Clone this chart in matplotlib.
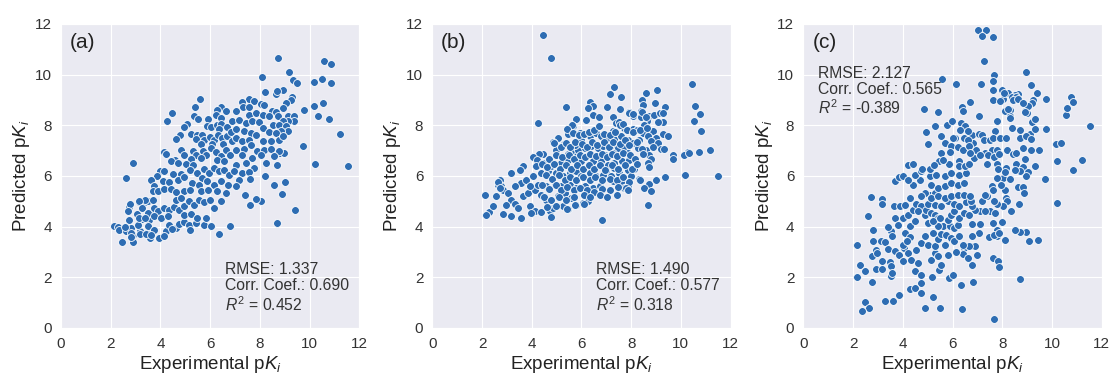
import matplotlib
matplotlib.use('Agg')
import matplotlib.pyplot as plt
import seaborn as sns
import numpy as np

# (experimental, predicted) pairs
pts_a = [
    (8.72,10.66),(10.6,10.53),(10.87,10.43),(8.08,9.91),(9.19,10.1),(9.33,9.8),(9.5,9.67),(10.19,9.71),
    (10.52,9.84),(10.85,9.67),(8.19,9.31),(8.63,9.24),(8.92,9.41),(9.30,9.12),(10.16,8.75),(10.54,8.88),
    (10.33,8.38),(10.77,8.26),(9.76,8.59),(11.21,7.64),(9.73,7.17),(10.23,6.48),(11.53,6.38),(9.02,5.77),
    (8.88,5.30),(8.55,5.64),(9.40,4.64),(8.70,4.14),(8.04,5.02),(7.84,5.10),(7.61,4.84),(6.80,4.03),
    (6.34,3.72),(7.39,5.23),(8.19,6.01),(8.71,6.42),(8.82,6.90),(8.97,6.90),(5.6,9.05),(5.4,8.72),
    (4.48,8.48),(4.25,8.16),(2.91,6.53),(2.62,5.92),
    (2.15,4.04),(2.28,3.97),(2.35,3.85),(2.47,3.41),(2.62,3.83),(2.74,4.76),(2.78,4.89),(2.75,4.27),
    (2.80,3.94),(2.91,3.41),(2.88,3.68),(3.07,4.5),(3.15,4.99),(3.18,3.81),(3.24,4.3),(3.38,4.99),
    (3.44,3.74),(3.56,4.27),(3.58,3.54),(3.64,4.53),(3.52,5.02),(3.71,5.06),
    (6.45,8.72),(6.29,8.59),(6.65,8.55),(5.36,8.36),(5.52,8.26),(5.93,8.26),(6.23,8.39),(6.43,8.29),
    (5.07,8.05),(4.96,7.93),(5.89,7.96),(6.05,7.95),(6.27,8.03),(6.43,8.07),(6.67,7.93),(6.36,7.87),
    (5.25,7.66),(4.77,7.63),(4.64,7.47),(5.49,7.63),(5.67,7.61),(5.43,7.46),(5.76,7.43),(5.63,7.26),
    (6.0,7.53),(6.16,7.43),(6.32,7.63),(6.49,7.5),(6.69,7.57),(6.83,7.74),(6.89,7.37),(6.08,7.26),
    (6.53,7.26),(4.83,7.03),(4.96,6.84),(4.16,6.95),(4.23,6.87),(4.59,6.63),(4.43,6.58),(4.72,6.51),
    (5.31,7.0),(5.43,6.84),(5.25,6.68),(5.71,7.0),(5.84,6.84),(5.63,6.71),(6.03,7.11),(6.23,6.95),
    (6.43,6.78),(6.64,7.04),(6.8,6.84),(6.29,6.64),(6.56,6.58),(5.03,6.47),(5.33,6.45),(4.0,6.21),
    (4.13,6.18),(3.87,5.99),(4.51,6.08),(4.83,6.08),(5.17,6.25),(5.49,6.12),(5.76,6.29),(5.96,6.12),
    (6.16,6.32),(6.36,6.18),(6.56,6.25),(6.76,6.03),(5.69,5.92),(3.63,5.84),(4.09,5.79),(4.36,5.75),
    (4.69,5.86),(4.96,5.95),(5.29,5.72),(5.56,5.66),(5.89,5.79),(6.16,5.66),(6.43,5.79),(6.72,5.66),
    (3.76,5.59),(3.69,5.39),(3.92,5.39),(4.13,5.5),(4.43,5.5),(4.63,5.37),(4.96,5.39),(5.2,5.46),
    (5.63,5.39),(5.92,5.46),(6.29,5.39),(6.63,5.33),(3.36,5.05),(3.13,5.0),(2.69,4.61),(3.25,4.74),
    (3.49,4.54),(3.73,4.74),(3.92,4.61),(4.13,4.74),(4.33,4.64),(4.53,4.78),(4.76,4.67),(4.96,4.83),
    (5.16,5.0),(5.36,4.87),(5.56,5.07),(5.76,4.97),(6.0,5.07),(6.16,4.74),(6.43,5.0),(4.63,5.07),
    (4.83,5.13),(2.59,3.99),(3.09,4.08),(3.49,4.01),(3.76,3.88),(4.23,3.82),(4.36,4.08),(4.63,3.95),
    (4.76,4.11),(4.96,4.17),(5.16,4.08),(5.43,4.14),(5.76,4.08),(6.03,4.01),(3.13,4.34),(3.36,4.34),
    (3.76,4.41),(4.03,4.34),(4.29,4.41),(4.96,4.47),(5.25,4.5),(5.49,4.34),(5.83,4.34),(2.83,3.75),
    (2.83,3.58),(3.16,3.71),(3.43,3.72),(3.63,3.68),(3.96,3.55),(4.16,3.62),(4.47,3.91),(5.2,3.88),
    (8.69,9.34),(9.27,8.99),(7.58,9.03),(7.77,8.95),(7.3,8.91),(7.32,8.72),(7.57,8.71),(8.03,8.84),
    (8.15,8.79),(9.05,8.88),(8.92,8.68),(8.47,8.55),(8.65,8.51),(7.05,8.58),(7.57,8.42),(7.86,8.49),
    (8.11,8.42),(8.38,8.36),(8.72,8.36),(9.12,8.36),(9.36,8.36),(9.36,8.18),(9.15,8.16),(8.92,8.18),
    (6.89,8.16),(7.16,8.22),(7.46,8.09),(7.7,8.18),(7.97,8.12),(8.51,8.03),(8.78,8.0),(9.05,7.96),
    (9.12,7.79),(8.85,7.79),(7.03,7.86),(7.36,7.76),(7.64,7.7),(8.11,7.89),(8.35,7.74),(8.65,7.7),
    (7.84,7.63),(7.03,7.5),(7.3,7.37),(7.57,7.43),(8.11,7.37),(8.45,7.37),(8.76,7.43),(8.92,7.57),
    (7.03,7.04),(7.36,7.08),(7.64,7.24),(7.9,6.97),(8.18,7.04),(8.45,7.07),(8.78,6.97),(7.3,6.84),
    (7.7,6.71),(8.04,6.84),(8.24,6.51),(8.58,6.78),(7.03,6.45),(7.43,6.51),(7.77,6.32),(6.96,6.18),
    (7.3,6.12),(7.57,6.16),(7.16,5.86),(7.61,5.89),(7.03,5.59),
]

pts_b = [
    (4.47,11.55),(4.78,10.67),(4.24,8.08),(5.38,8.71),(5.79,8.26),(5.6,7.99),(5.68,7.99),(5.45,7.66),
    (6.34,8.91),(6.48,8.78),(6.28,8.68),(6.48,8.42),(6.7,8.32),(6.2,8.22),(5.06,7.5),(5.3,7.28),
    (4.85,7.33),(4.96,7.04),(4.46,6.88),(4.3,6.88),(4.05,6.75),(4.22,6.64),(3.65,6.38),(3.52,6.25),
    (3.15,6.12),(2.71,5.83),(2.64,5.66),(2.11,5.24),(2.27,4.57),(2.15,4.44),(2.44,4.83),(2.85,4.51),
    (3.15,4.41),(3.58,4.33),(2.75,5.59),(2.85,5.46),(2.58,5.2),(3.05,5.33),(3.15,5.07),(3.32,4.91),
    (2.98,4.87),(3.45,4.74),(3.92,4.8),(4.12,4.61),(4.39,4.57),(4.72,4.61),(4.86,4.74),(3.99,4.55),
    (4.79,4.38),(3.65,5.2),(3.85,5.33),(4.12,5.46),(4.39,5.26),(4.59,5.07),(5.06,5.2),(5.33,5.33),
    (5.6,5.13),(5.8,4.87),(5.26,4.8),(5.44,4.7),(6.07,4.93),(6.27,5.0),(6.83,4.28),(3.58,5.72),
    (3.79,5.86),(4.05,5.99),(4.39,6.12),(4.66,6.18),(4.99,6.12),(5.26,5.99),(5.53,6.12),(5.8,6.18),
    (6.0,5.99),(6.34,6.12),(6.6,5.99),(3.32,5.59),(3.92,5.59),(4.26,5.66),(4.59,5.59),(4.93,5.66),
    (5.19,5.59),(5.53,5.66),(5.8,5.53),(6.13,5.59),(6.47,5.53),(6.74,5.59),(4.19,6.38),(4.46,6.51),
    (4.79,6.38),(5.19,6.51),(5.46,6.64),(5.73,6.78),(6.0,6.58),(6.2,6.78),(6.47,6.58),(6.74,6.71),
    (5.6,6.97),(5.87,7.04),(6.13,7.11),(6.4,7.17),(6.67,7.11),(5.73,7.24),(6.0,7.43),(6.34,7.57),
    (6.6,7.7),(6.8,7.57),(5.93,7.7),(5.44,6.88),(2.66,5.77),(2.73,5.51),
    (10.44,9.63),(7.33,9.51),(7.16,9.25),(7.6,9.11),(9.04,9.41),(8.61,9.28),(8.44,9.01),(8.47,8.82),
    (8.95,8.88),(9.37,8.74),(10.56,8.75),(7.03,8.71),(7.57,8.64),(7.91,8.53),(8.07,8.38),(8.41,8.55),
    (8.4,8.33),(8.71,8.36),(8.93,8.42),(9.16,8.49),(10.79,8.45),(7.27,8.33),(10.52,8.17),(8.64,8.16),
    (9.27,8.14),(9.09,8.12),(7.4,8.09),(7.53,8.12),(7.67,8.03),(8.53,8.03),(10.8,7.76),(8.07,7.86),
    (8.24,7.83),(8.87,7.76),(7.27,7.76),(7.73,7.89),(9.27,7.67),(9.47,7.59),(8.47,7.7),(8.67,7.57),
    (9.0,7.5),(7.0,7.43),(7.33,7.47),(7.6,7.57),(7.87,7.43),(8.33,7.43),(8.07,7.3),(8.8,7.37),
    (9.07,7.3),(9.2,7.07),(9.33,7.07),(6.87,7.17),(7.2,7.2),(7.47,7.11),(7.73,7.14),(8.27,7.11),
    (8.6,7.04),(8.87,7.13),(11.16,7.01),(10.71,6.93),(10.29,6.93),(10.13,6.84),(9.69,6.83),(9.69,6.67),
    (6.93,6.84),(7.27,6.91),(7.53,6.78),(7.87,6.91),(8.47,6.88),(8.73,6.84),(8.8,6.67),(6.8,6.58),
    (7.07,6.45),(7.33,6.51),(7.64,6.58),(7.93,6.64),(8.67,6.51),(8.73,6.36),(7.0,6.18),(7.33,6.32),
    (7.53,6.12),(7.87,6.25),(8.13,6.28),(6.87,6.05),(7.2,5.99),(7.67,5.96),(8.0,6.01),(9.37,5.95),
    (10.15,6.03),(11.48,6.01),(8.33,5.88),(7.27,5.79),(7.6,5.75),(7.87,5.62),(7.73,5.53),(8.71,5.68),
    (9.0,5.83),(8.51,5.53),(8.8,5.39),(8.68,4.84),(9.3,8.48),(10.34,6.9),
    (7.93,8.49),(8.09,8.46),(8.43,8.53),(8.6,8.33),(5.63,8.0),(5.43,7.87),(5.67,7.7),(5.89,7.61),
    (6.09,7.67),(6.29,7.74),(6.49,7.8),(6.69,7.96),(6.89,7.67),(7.16,7.61),(7.36,7.74),(7.56,8.0),
    (7.69,8.07),(7.85,7.83),(8.07,7.74),(8.36,7.8),(8.63,7.91),(4.89,7.3),(5.16,7.14),(5.36,7.3),
    (5.56,7.14),(5.76,7.34),(6.03,7.28),(6.23,7.14),(6.43,7.34),(6.63,7.21),(6.89,7.34),(7.09,7.14),
    (7.29,7.34),(7.56,7.28),(7.76,7.41),(7.93,7.21),(8.23,7.34),(8.43,7.08),(4.69,6.68),(4.96,6.82),
    (5.23,6.75),(5.49,6.82),(5.69,6.68),(5.93,6.82),(6.16,6.75),(6.36,6.88),(6.6,6.78),(6.83,6.88),
    (7.03,6.75),(7.23,6.88),(7.45,6.78),(7.69,6.91),(7.96,6.82),(8.16,6.68),(8.49,6.88),(4.43,6.49),
    (4.63,6.36),(4.89,6.46),(5.13,6.29),(5.36,6.42),(5.59,6.29),(5.83,6.42),(6.07,6.29),(6.29,6.42),
    (6.52,6.29),(6.76,6.42),(6.96,6.22),(7.23,6.42),(7.49,6.29),(7.76,6.42),(8.03,6.29),(8.23,6.49),
    (4.56,6.03),(4.83,5.89),(5.09,6.03),(5.32,5.83),(5.56,5.96),(5.8,5.83),(6.07,5.96),(6.33,5.83),
    (6.56,5.96),(6.83,5.83),(7.16,5.89),(7.43,5.83),(7.69,5.96),(7.93,5.76),(8.36,5.83),(4.43,5.63),
    (4.69,5.5),(4.96,5.63),(5.19,5.43),(5.43,5.57),(5.69,5.43),(5.96,5.54),(6.23,5.46),(6.49,5.37),
    (6.83,5.5),(7.16,5.43),(7.49,5.57),(7.8,5.54),(7.89,5.43),(4.49,5.17),(4.76,5.04),(5.09,5.17),
    (5.36,5.04),(5.69,5.17),(6.09,5.24),(6.36,5.17),(6.76,5.24),(7.03,5.17),(7.43,5.24),(4.63,4.78),
    (4.96,4.8),(5.43,4.71),(5.76,4.84),(6.09,4.91),
]

pts_c = [
    (7.04,11.75),(7.35,11.75),(7.17,11.54),(7.63,11.48),(7.28,10.53),(7.68,10.0),(7.64,9.74),(7.14,9.64),
    (7.64,9.38),(7.64,9.01),(8.95,10.09),(9.14,9.6),(9.38,9.28),(5.58,9.84),(6.14,9.64),(4.87,8.64),
    (5.4,8.51),(6.37,8.72),(6.71,8.91),(7.08,8.38),(7.81,8.16),(4.92,7.72),(5.0,7.26),(5.31,7.98),
    (5.79,8.02),(5.54,7.56),(8.0,9.41),(8.24,9.28),(8.04,9.04),(8.31,8.59),(8.12,8.56),(8.31,8.35),
    (8.91,8.55),(9.0,8.48),(9.25,9.01),(9.76,9.04),(9.76,7.85),(10.56,8.42),(10.62,8.68),(10.75,9.12),
    (10.83,8.92),(11.53,7.96),(10.16,7.26),(10.35,7.3),(10.22,6.6),(11.21,6.63),(10.86,6.25),(9.71,5.88),
    (10.19,4.95),(9.42,3.48),(9.06,3.45),(8.95,3.77),(8.71,3.78),(8.53,3.87),(8.11,3.48),(7.77,3.62),
    (7.77,3.87),(7.48,3.58),(7.64,2.78),(7.82,2.65),(7.86,2.4),(8.71,1.92),(7.68,0.36),(6.84,1.83),
    (6.97,2.89),(9.32,6.38),
    (8.64,9.25),(8.5,9.18),(8.41,9.12),(8.57,9.1),(8.44,8.99),(8.64,9.05),(8.07,9.28),(7.93,8.96),
    (9.21,8.89),(9.03,8.76),(8.83,8.86),(8.9,8.53),(8.24,8.66),(8.3,8.29),(9.21,8.13),(9.3,8.26),
    (7.69,7.78),(8.4,7.89),(8.7,7.83),(9.1,7.67),(9.3,7.86),(6.78,7.61),(7.05,7.64),(7.18,7.61),
    (6.82,7.3),(7.25,7.41),(7.51,7.43),(7.64,7.5),(7.93,7.51),(8.15,7.5),(8.7,7.51),(8.94,7.57),
    (9.17,7.45),(6.95,7.01),(7.31,6.91),(7.58,7.01),(7.77,7.01),(8.2,7.04),(8.44,6.88),(8.57,6.92),
    (8.83,7.11),(9.17,7.01),(9.47,7.04),(6.85,6.72),(7.11,6.82),(7.44,6.82),(7.67,6.75),(7.88,6.86),
    (8.9,6.68),(7.38,6.49),(7.77,6.46),(8.17,6.29),(8.57,6.49),(8.83,6.36),
    (9.03,6.16),(8.94,5.99),(8.7,6.21),(8.5,6.25),(8.17,6.32),(7.84,6.29),(8.04,5.92),(7.77,5.92),
    (8.33,5.89),(8.13,6.16),(8.64,5.55),(8.83,5.55),(8.86,5.32),(8.11,5.46),(7.95,5.63),(7.58,5.59),
    (7.62,5.46),(7.38,5.2),(8.17,5.13),(8.2,5.0),(8.04,4.8),(7.8,4.89),(7.66,5.03),(8.68,4.89),
    (8.34,4.63),(7.49,4.61),(7.69,4.54),(7.1,4.61),(7.3,4.61),(6.91,4.67),(6.78,4.8),(7.17,5.0),
    (7.3,5.26),(6.79,4.11),(7.1,4.12),(7.62,4.14),(7.99,4.18),(7.67,3.68),(7.88,3.75),(7.05,3.75),
    (6.78,3.62),(6.78,3.25),(6.89,3.22),(6.78,2.5),
    (2.16,3.29),(2.29,2.47),(2.48,2.24),(2.16,2.0),(2.59,4.41),(2.79,3.88),(2.81,3.42),(2.75,2.83),
    (2.91,3.09),(2.95,2.96),(2.77,1.8),(2.91,2.34),(2.72,5.17),(3.17,5.09),(3.17,4.89),(3.11,3.45),
    (3.28,3.39),(3.17,2.63),(3.17,2.34),(3.41,3.12),(3.52,3.82),(3.68,4.34),(3.81,4.05),(3.39,3.97),
    (3.65,4.8),(3.88,4.8),(3.68,5.82),(3.84,5.95),(4.01,5.99),(3.55,3.62),(3.48,2.61),(3.51,2.43),
    (3.52,2.04),(3.68,3.05),(3.55,2.17),(4.05,3.16),(3.84,2.89),(4.21,2.96),(3.99,2.63),(4.01,3.29),
    (4.08,3.75),(4.28,3.58),(4.15,3.42),(4.28,4.01),(4.48,4.21),(4.01,4.34),(4.21,4.47),(4.41,4.67),
    (4.08,4.87),(4.28,5.13),(4.55,4.89),(4.75,4.8),(4.61,4.61),(4.88,4.47),(4.95,4.67),(5.15,4.54),
    (5.28,4.47),(5.41,4.34),(5.08,5.26),(4.88,5.33),(5.28,5.33),(4.41,5.66),(4.68,5.86),(4.48,6.05),
    (4.75,6.18),(4.21,5.86),(4.35,2.7),(4.61,2.57),(4.55,3.09),(4.72,3.36),(4.88,3.62),(4.48,2.24),
    (4.75,2.11),(4.75,1.78),(4.28,1.55),(4.48,1.58),(3.84,1.32),(3.28,1.05),(3.61,1.08),(2.47,1.03),
    (2.64,0.79),(2.35,0.69),(4.72,1.38),(4.88,0.8),(5.23,1.22),(5.51,0.8),(6.37,0.76),(5.15,2.7),
    (5.28,2.96),(5.41,2.83),(5.17,2.01),(5.45,2.3),(5.55,2.5),(5.01,3.29),(5.28,3.22),(5.41,3.53),
    (5.55,3.71),(5.21,3.75),(5.61,4.01),(5.88,4.01),(6.08,3.95),(6.21,4.08),(5.41,4.01),(5.75,3.68),
    (5.95,3.55),(6.08,3.42),(6.28,3.62),(6.48,3.16),(6.68,3.22),(6.41,2.92),(6.61,2.76),(5.81,2.89),
    (5.68,3.29),(5.84,1.97),(6.01,2.11),(6.35,1.71),(6.15,2.99),(6.41,3.29),(5.01,4.14),(5.21,4.24),
    (5.48,4.34),(5.81,4.28),(5.95,4.47),(6.08,4.61),(6.28,4.34),(6.48,4.54),(6.68,4.47),(5.01,4.89),
    (5.28,4.87),(5.55,4.8),(5.81,5.0),(6.08,4.89),(6.28,4.8),(6.55,4.97),(6.75,5.0),(4.72,5.2),
    (5.15,5.13),(5.41,5.2),(5.68,5.13),(5.95,5.2),(6.21,5.26),(6.48,5.24),(6.72,5.2),(5.15,5.66),
    (5.41,5.53),(5.68,5.59),(5.95,5.72),(6.21,5.66),(6.48,5.72),(5.08,5.99),(5.35,6.05),(5.68,5.99),
    (5.95,6.12),(6.28,6.05),(6.55,6.12),
    (6.41,8.55),(5.99,8.16),(6.35,8.09),(6.51,7.96),(6.31,7.83),(6.64,7.76),(6.12,7.5),(6.45,7.5),
    (6.61,7.43),(5.68,7.3),(5.92,7.17),(5.88,6.93),(6.24,7.13),(6.41,7.01),(6.68,7.17),(5.55,6.91),
    (5.44,6.58),(5.84,6.49),(6.25,6.58),(6.28,6.41),(6.51,6.38),(6.68,6.49),(4.21,6.45),(4.43,6.49),
    (4.77,6.29),(5.08,6.29),(5.25,6.45),(6.03,7.5),(5.63,6.64),(6.7,6.9),
]

labels = ['(a)', '(b)', '(c)']
rmse = [1.337, 1.490, 2.127]
corr = [0.690, 0.577, 0.565]
r2 = [0.452, 0.318, -0.389]
ticks = [0, 2, 4, 6, 8, 10, 12]

sns.set_style('darkgrid')
plt.rcParams['font.family'] = ['Liberation Sans', 'DejaVu Sans']
plt.rcParams['mathtext.fontset'] = 'custom'
plt.rcParams['mathtext.rm'] = 'Liberation Sans'
plt.rcParams['mathtext.it'] = 'Liberation Sans:italic'

fig = plt.figure(figsize=(11.13, 3.74), dpi=100)
lefts = [0.0548, 0.3884, 0.7218]
text_pos = [(6.6, 2.6), (6.6, 2.6), (0.6, 10.35)]

for i, pts in enumerate([pts_a, pts_b, pts_c]):
    ax = fig.add_axes([lefts[i], 0.123, 0.268, 0.813])
    xy = np.array(pts)
    ax.scatter(xy[:, 0], xy[:, 1], s=32, c='#2e6db3', edgecolors='white', linewidths=0.6, zorder=3)
    ax.set_xlim(0, 12)
    ax.set_ylim(0, 12)
    ax.set_xticks(ticks)
    ax.set_yticks(ticks)
    ax.tick_params(labelsize=11, labelcolor='#333333', pad=3)
    ax.set_xlabel('Experimental p$K_i$', fontsize=13.5, color='#222222', labelpad=2)
    ax.set_ylabel('Predicted p$K_i$', fontsize=13.5, color='#222222', labelpad=2)
    ax.text(0.03, 0.97, labels[i], transform=ax.transAxes, fontsize=15, va='top', color='#222222')
    s = 'RMSE: %.3f\nCorr. Coef.: %.3f\n$R^2$ = %.3f' % (rmse[i], corr[i], r2[i])
    ax.text(text_pos[i][0], text_pos[i][1], s, fontsize=11.3, va='top', ha='left',
            linespacing=1.1, color='#333333')

fig.savefig('out.png', dpi=100)
